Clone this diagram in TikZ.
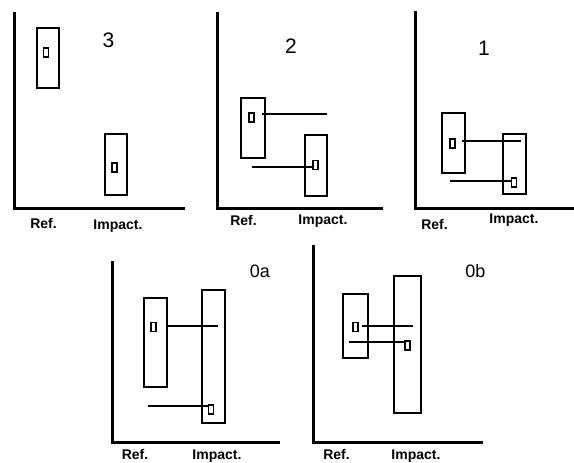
\documentclass[tikz,border=0pt]{standalone}
\usepackage{fontspec}
\setmainfont{Liberation Sans}
\usepackage{tikz}
\usetikzlibrary{positioning}
\begin{document}
\begin{tikzpicture}[x=1pt,y=-1pt]
\tikzstyle{every node}+=[inner sep=0pt,outer sep=0pt]
\tikzstyle{axis}=[black,line width=3pt]
\tikzstyle{bar}=[draw=black,line width=2.2pt]
\tikzstyle{tick}=[draw=black,fill=white,line width=1.8pt,minimum width=5pt,minimum height=9pt]
\tikzstyle{link}=[black,line width=1.6pt]
\tikzstyle{lab}=[anchor=base,font=\bfseries\fontsize{14}{16}\selectfont]
\tikzstyle{num}=[anchor=base,font=\fontsize{21}{24}\selectfont]
\useasboundingbox (0,0) rectangle (574,463);
% panel 3
\draw [axis] (14,12) -- (14,208) -- (185,208);
\node [bar,minimum width=22pt,minimum height=60pt] (ref3) at (48,58) {};
\node [tick] (rm3) at (46,52.5) {};
\node [bar,minimum width=22pt,minimum height=61pt] (imp3) at (116,164.5) {};
\node [tick] (im3) at (114.5,167.5) {};
\node [num] (n3) at (108.5,48) {3};
\node [lab] (rl3) at (43.5,228) {Ref.};
\node [lab] (il3) at (118,229) {Impact.};
% panel 2
\draw [axis] (217,12) -- (217,208) -- (383,208);
\node [bar,minimum width=24pt,minimum height=60pt] (ref2) at (253,128) {};
\node [tick] (rm2) at (251.5,117.5) {};
\node [bar,minimum width=22pt,minimum height=61pt] (imp2) at (316,165.5) {};
\node [tick] (im2) at (315.5,165) {};
\coordinate (a2) at (262,114);
\coordinate (b2) at (327,114);
\coordinate (c2) at (252,167);
\draw [link] (a2) -- (b2);
\draw [link] (c2) -- (im2.west |- c2);
\node [num] (n2) at (291,53) {2};
\node [lab] (rl2) at (243.5,225) {Ref.};
\node [lab] (il2) at (323,224) {Impact.};
% panel 1
\draw [axis] (415,11) -- (415,208) -- (574,208);
\node [bar,minimum width=23pt,minimum height=60pt] (ref1) at (453.5,143) {};
\node [tick] (rm1) at (452.5,143.5) {};
\node [bar,minimum width=23pt,minimum height=60pt] (imp1) at (514.5,164) {};
\node [tick] (im1) at (514,182.5) {};
\coordinate (a1) at (462,141);
\coordinate (b1) at (521,141);
\coordinate (c1) at (450,181);
\draw [link] (a1) -- (b1);
\draw [link] (c1) -- (im1.west |- c1);
\node [num] (n1) at (484,55) {1};
\node [lab] (rl1) at (434.5,229) {Ref.};
\node [lab] (il1) at (514,223) {Impact.};
% panel 0a
\draw [axis] (112,261) -- (112,442) -- (280,442);
\node [bar,minimum width=23pt,minimum height=89pt] (ref0a) at (155.5,342.5) {};
\node [tick] (rm0a) at (153.5,327) {};
\node [bar,minimum width=23pt,minimum height=133pt] (imp0a) at (213.5,356.5) {};
\node [tick] (im0a) at (211,409.5) {};
\coordinate (b0a) at (218,326);
\coordinate (c0a) at (148,406);
\draw [link] (ref0a.east |- b0a) -- (b0a);
\draw [link] (c0a) -- (im0a.west |- c0a);
\node [num,font=\fontsize{18}{21}\selectfont] (n0a) at (260,277) {0a};
\node [lab] (rl0a) at (135,459) {Ref.};
\node [lab] (il0a) at (217,459) {Impact.};
% panel 0b
\draw [axis] (313,245) -- (313,442) -- (483,442);
\node [bar,minimum width=25pt,minimum height=64pt] (ref0b) at (355.5,326) {};
\node [tick] (rm0b) at (355.5,327) {};
\node [bar,minimum width=27pt,minimum height=137pt] (imp0b) at (407.5,344.5) {};
\node [tick] (im0b) at (407.5,345.5) {};
\coordinate (a0b) at (362,326);
\coordinate (b0b) at (413,326);
\coordinate (c0b) at (349,342);
\draw [link] (a0b) -- (b0b);
\draw [link] (c0b) -- (im0b.west |- c0b);
\node [num,font=\fontsize{18}{21}\selectfont] (n0b) at (475.5,277) {0b};
\node [lab] (rl0b) at (336.5,459) {Ref.};
\node [lab] (il0b) at (416,459) {Impact.};
\end{tikzpicture}
\end{document}
